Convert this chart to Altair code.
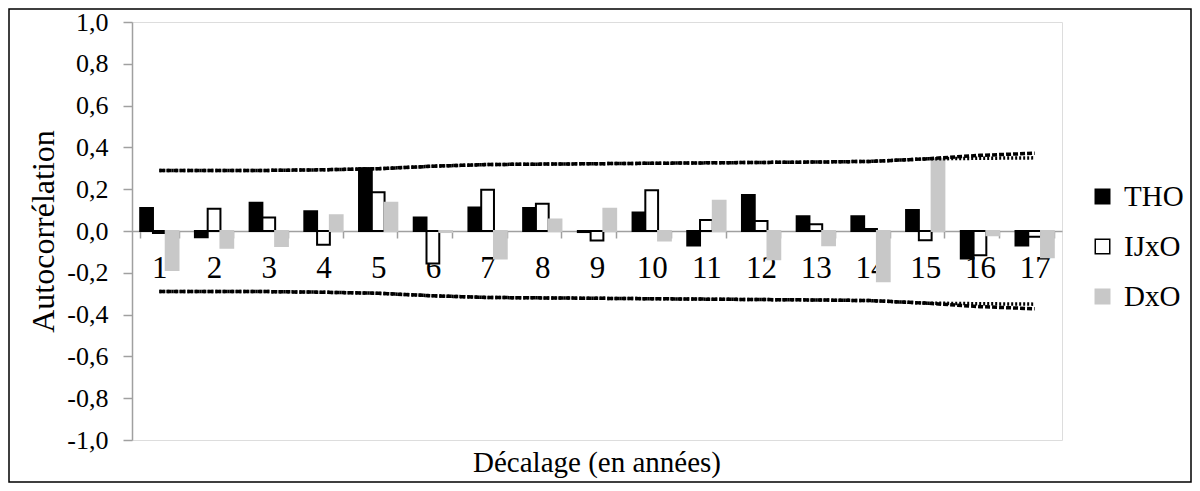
import altair as alt
import pandas as pd

lags = list(range(1, 18))
series_names = ["THO", "IJxO", "DxO"]
tho = [0.11, -0.03, 0.135, 0.095, 0.30, 0.064, 0.113, 0.11, -0.005, 0.088, -0.069, 0.172, 0.07, 0.07, 0.10, -0.132, -0.069]
ijxo = [-0.01, 0.106, 0.064, -0.066, 0.186, -0.156, 0.197, 0.13, -0.045, 0.195, 0.053, 0.048, 0.032, 0.01, -0.044, -0.116, -0.028]
dxo = [-0.187, -0.08, -0.072, 0.075, 0.135, -0.005, -0.132, 0.055, 0.106, -0.045, 0.145, -0.135, -0.068, -0.24, 0.343, -0.02, -0.125]

upper_a = [0.29, 0.29, 0.29, 0.293, 0.298, 0.31, 0.318, 0.32, 0.322, 0.324, 0.326, 0.328, 0.33, 0.333, 0.345, 0.362, 0.372]
upper_b = [0.29, 0.29, 0.29, 0.293, 0.298, 0.31, 0.318, 0.32, 0.322, 0.324, 0.326, 0.328, 0.33, 0.333, 0.345, 0.348, 0.35]
lower_a = [-0.29, -0.29, -0.29, -0.293, -0.298, -0.31, -0.318, -0.32, -0.322, -0.324, -0.326, -0.328, -0.33, -0.333, -0.345, -0.362, -0.372]
lower_b = [-0.29, -0.29, -0.29, -0.293, -0.298, -0.31, -0.318, -0.32, -0.322, -0.324, -0.326, -0.328, -0.33, -0.333, -0.345, -0.348, -0.35]

x_title = "Décalage (en années)"
y_title = "Autocorrélation"

FONT = "Liberation Serif"

bars = pd.DataFrame(
    [{"lag": l, "series": s, "value": v}
     for s, vals in zip(series_names, [tho, ijxo, dxo])
     for l, v in zip(lags, vals)]
)
bands = pd.DataFrame(
    [{"lag": l, "line": name, "style": style, "value": v}
     for name, style, vals in [("ua", "a", upper_a), ("ub", "b", upper_b),
                               ("la", "a", lower_a), ("lb", "b", lower_b)]
     for l, v in zip(lags, vals)]
)

W, H = 930, 418
TOP = 14

xscale = alt.Scale(paddingInner=0.3, paddingOuter=0.15)
yscale = alt.Scale(domain=[-1, 1], nice=False, zero=False)

x_axis = alt.Axis(
    title=None, offset=-H / 2, labelAngle=0, labelFont=FONT, labelFontSize=31,
    labelColor="black", labelPadding=15, tickBand="extent", tickSize=7,
    tickColor="#a0a0a0", tickWidth=1.5, domainColor="#a0a0a0", domainWidth=1.5,
    grid=False,
)
y_axis = alt.Axis(
    title=y_title, values=[-1, -0.8, -0.6, -0.4, -0.2, 0, 0.2, 0.4, 0.6, 0.8, 1.0],
    labelExpr="replace(replace(format(datum.value, '.1f'), '.', ','), '\u2212', '-')",
    labelFont=FONT, labelFontSize=26, labelColor="black", labelPadding=15,
    tickSize=9, tickColor="#a0a0a0", tickWidth=1.5, domainColor="#a0a0a0", domainWidth=1.5,
    titleFont=FONT, titleFontSize=32, titleFontWeight="normal", titleColor="black",
    titlePadding=6, grid=False,
)

legend = alt.Legend(title=None, orient="none", legendX=956, legendY=160,
                    symbolType="square", symbolSize=210, symbolStrokeWidth=1.5,
                    labelFont=FONT, labelFontSize=29, labelColor="black",
                    labelOffset=7, rowPadding=20, padding=0)

bar_layer = alt.Chart(bars).mark_bar(strokeWidth=2).encode(
    x=alt.X("lag:O", scale=xscale, axis=x_axis),
    xOffset=alt.XOffset("series:N", sort=series_names, scale=alt.Scale(paddingInner=0, paddingOuter=0)),
    y=alt.Y("value:Q", scale=yscale, axis=y_axis),
    fill=alt.Fill("series:N", sort=series_names,
                  scale=alt.Scale(domain=series_names, range=["#000000", "#ffffff", "#c8c8c8"]),
                  legend=legend),
    stroke=alt.Stroke("series:N", sort=series_names,
                      scale=alt.Scale(domain=series_names, range=["#000000", "#000000", "#c8c8c8"]),
                      legend=legend),
)

band_layer = alt.Chart(bands).mark_line(strokeWidth=3.5, color="black").encode(
    x=alt.X("lag:O", scale=xscale),
    y=alt.Y("value:Q", scale=yscale),
    detail="line:N",
    strokeDash=alt.StrokeDash("style:N", scale=alt.Scale(domain=["a", "b"], range=[[5, 2], [2, 2]]), legend=None),
)

frame = alt.Chart(pd.DataFrame({"k": [0]})).mark_rect(filled=False, stroke="black", strokeWidth=1.5, clip=False).encode(
    x=alt.value(-123), x2=alt.value(W + 129), y=alt.value(-TOP + 1), y2=alt.value(H + 42)
)

xtitle_layer = alt.Chart(pd.DataFrame({"t": [x_title]})).mark_text(
    font=FONT, fontSize=29, color="black", align="center", baseline="middle", clip=False
).encode(text="t:N", x=alt.value(W / 2), y=alt.value(H + 23))

chart = alt.layer(bar_layer, band_layer, frame, xtitle_layer).properties(
    width=W, height=H,
    autosize=alt.AutoSizeParams(type="none"),
    padding={"left": 124, "top": TOP, "right": 130, "bottom": 43},
).configure_view(stroke="#a0a0a0", strokeWidth=2).configure(background="white")

chart.save("out.html", embed_options={"renderer": "svg", "actions": False})
